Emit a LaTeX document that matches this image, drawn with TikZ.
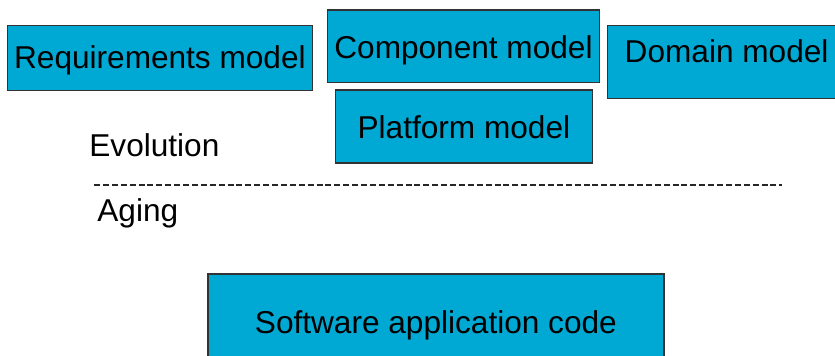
\documentclass[tikz,border=0pt]{standalone}
\usepackage{fontspec}
\setmainfont{Liberation Sans}
\usepackage{tikz}
\usetikzlibrary{positioning}
\definecolor{modelblue}{RGB}{0,168,212}

\begin{document}
\begin{tikzpicture}[x=0.5pt,y=-0.5pt,font=\fontsize{15.8}{19}\selectfont,
  model/.style={draw=black!80,line width=0.6pt,fill=modelblue,inner sep=0pt,anchor=north west},
  tag/.style={inner sep=0pt,anchor=base west}]
  \clip (0,0) rectangle (835,355);
  \node[model,minimum width=152.3pt,text height=21.6pt,text depth=10.9pt](req) at (7,25) {Requirements model};
  \node[model,minimum width=136.2pt,text height=24.35pt,text depth=11.85pt](comp) at (326.7,9.3) {Component model};
  \node[model,minimum width=128.3pt,text height=24.35pt,text depth=12.15pt](plat) at (335,89.3) {Platform model};
  \node[model,minimum width=119.3pt,text height=18.25pt,text depth=18.1pt](dom) at (606.7,25) {Domain model};
  \node[model,minimum width=228pt,text height=29.85pt,text depth=20pt](code) at (207.3,273.3) {Software application code};
  \node[tag](evo) at (89,156.7) {Evolution};
  \node[tag](aging) at (97,221.7) {Aging};
  \draw[black!85,line width=0.65pt,dash pattern=on 3pt off 1.45pt] (94,185) -- (781.7,185);
\end{tikzpicture}
\end{document}
